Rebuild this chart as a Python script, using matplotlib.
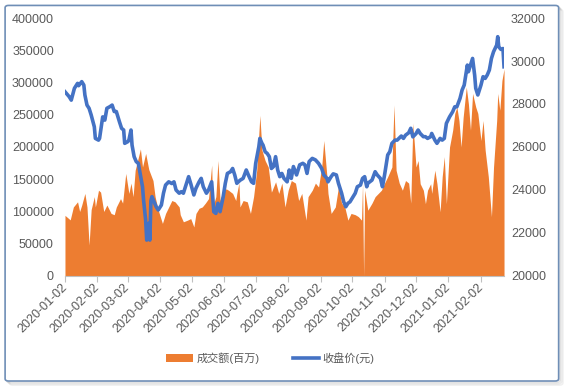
import matplotlib
matplotlib.use('Agg')
import matplotlib.pyplot as plt
from matplotlib.patches import FancyBboxPatch, Patch
from matplotlib.lines import Line2D
import pandas as pd

plt.rcParams['font.family'] = ['Liberation Sans', 'Noto Sans CJK SC', 'DejaVu Sans']

start = pd.Timestamp('2020-01-02')

# 成交额(百万): (days after 2020-01-02, value)
vol_points = [
    (0, 94000), (5, 87000), (8, 107000), (12, 115000), (14, 100000), (16, 110000),
    (19, 128000), (21, 107000), (23, 48000), (25, 103000), (28, 123000), (29, 107000),
    (32, 133000), (34, 130000), (37, 100000), (40, 110000), (44, 97000), (47, 95000),
    (49, 107000), (53, 120000), (55, 113000), (58, 159000), (61, 128000), (63, 144000),
    (65, 123000), (67, 164000), (72, 197000), (74, 169000), (77, 190000), (80, 165000),
    (84, 148000), (86, 123000), (89, 102000), (93, 81500), (96, 97000), (99, 107000),
    (102, 117000), (105, 115000), (109, 107000), (110, 95000), (113, 84000), (117, 86600),
    (120, 89000), (123, 76000), (125, 97000), (128, 105000), (131, 107000), (134, 113000),
    (137, 120000), (140, 172000), (141, 107000), (144, 123000), (146, 179000), (148, 117000),
    (151, 133000), (154, 135000), (156, 133000), (160, 128000), (163, 117000), (164, 128000),
    (166, 144000), (167, 107000), (170, 117000), (174, 115000), (177, 97000), (180, 123000),
    (183, 164000), (186, 249000), (188, 195000), (191, 179000), (194, 169000), (197, 130000),
    (201, 146000), (204, 128000), (207, 144000), (210, 107000), (213, 133000), (216, 148000),
    (220, 144000), (223, 117000), (226, 128000), (230, 86600), (232, 123000), (236, 133000),
    (239, 144000), (242, 138000), (245, 169000), (247, 210000), (250, 154000), (251, 128000),
    (254, 97000), (258, 107000), (261, 138000), (264, 113000), (267, 107000), (270, 86600),
    (273, 97000), (277, 95000), (280, 92000), (283, 86600), (284, 143000), (285, 0),
    (286, 133000), (289, 102000), (293, 113000), (296, 123000), (299, 128000), (302, 133000),
    (305, 144000), (308, 154000), (312, 169000), (314, 265000), (316, 164000), (319, 144000),
    (322, 133000), (325, 148000), (328, 144000), (330, 113000), (332, 237000), (335, 169000),
    (337, 179000), (339, 143000), (342, 133000), (344, 112000), (346, 133000), (349, 143000),
    (350, 128000), (353, 164000), (355, 143000), (358, 99500), (360, 154000), (362, 185000),
    (364, 112000), (367, 200000), (370, 226000), (372, 252000), (374, 262000), (376, 241000),
    (378, 200000), (380, 246000), (383, 293000), (385, 267000), (387, 226000), (389, 283000),
    (392, 262000), (394, 252000), (397, 210000), (399, 241000), (401, 195000), (404, 154000),
    (407, 92000), (409, 169000), (412, 241000), (413, 283000), (415, 257000), (417, 303000),
    (419, 321000),
]

# 收盘价(元): (days after 2020-01-02, value)
price_points = [
    (0, 28570), (4, 28340), (6, 28180), (9, 28730), (12, 28960), (13, 28850),
    (16, 29040), (18, 28880), (19, 28420), (21, 27950), (23, 27800), (25, 27490),
    (28, 26940), (29, 26400), (32, 26320), (33, 26400), (36, 27400), (38, 27250),
    (40, 27800), (43, 27880), (45, 27950), (47, 27650), (49, 27650), (52, 27170),
    (54, 26870), (56, 26790), (57, 26170), (60, 26250), (61, 26320), (63, 26790),
    (64, 26090), (66, 25550), (68, 25320), (70, 25240), (72, 24700), (74, 24150),
    (75, 23530), (77, 22600), (78, 21670), (80, 22450), (81, 21670), (82, 23500),
    (83, 23690), (85, 23450), (87, 23220), (89, 23070), (92, 23300), (94, 23850),
    (96, 24230), (99, 24380), (102, 24300), (104, 24380), (106, 24000), (109, 23850),
    (111, 23920), (113, 23850), (116, 24310), (118, 24620), (120, 24300), (123, 23770),
    (125, 24080), (128, 24380), (130, 24540), (132, 24150), (135, 23850), (137, 24000),
    (140, 24380), (142, 22990), (144, 22910), (146, 23380), (148, 22990), (151, 23690),
    (153, 24310), (155, 24770), (158, 24850), (160, 25000), (162, 24700), (164, 24310),
    (167, 24450), (170, 24540), (173, 24930), (175, 24700), (178, 24380), (180, 24310),
    (182, 25240), (185, 26010), (186, 26400), (188, 26170), (189, 26090), (191, 25780),
    (193, 25700), (195, 25550), (197, 25000), (199, 25090), (201, 25550), (203, 24930),
    (205, 24620), (207, 24770), (209, 24540), (212, 24380), (214, 24930), (216, 24540),
    (218, 25090), (221, 24700), (224, 25170), (227, 25240), (229, 25170), (231, 24770),
    (233, 25320), (236, 25470), (239, 25400), (242, 25240), (245, 25000), (247, 24700),
    (250, 24540), (251, 24380), (254, 24620), (256, 24750), (259, 24700), (261, 24310),
    (264, 23850), (266, 23450), (268, 23220), (270, 23380), (272, 23450), (274, 23610),
    (277, 23850), (279, 24150), (282, 24230), (284, 24540), (286, 24620), (288, 24150),
    (289, 24310), (293, 24460), (296, 24850), (298, 24700), (301, 24540), (303, 24150),
    (305, 24700), (308, 25630), (310, 25780), (312, 26170), (315, 26320), (317, 26320),
    (321, 26510), (323, 26400), (325, 26550), (328, 26660), (330, 26870), (332, 26470),
    (335, 26620), (337, 26790), (339, 26630), (342, 26480), (344, 26480), (346, 26400),
    (349, 26480), (350, 26630), (353, 26320), (355, 26170), (358, 26400), (360, 26320),
    (362, 26400), (364, 27100), (367, 27400), (370, 27640), (372, 27870), (374, 27870),
    (377, 28260), (379, 28650), (381, 28880), (384, 29810), (385, 29500), (387, 29810),
    (389, 30120), (391, 29330), (392, 28730), (394, 28420), (397, 28880), (399, 29270),
    (401, 29190), (403, 29350), (405, 29580), (407, 30120), (409, 30430), (412, 30740),
    (413, 31130), (414, 30660), (416, 30540), (418, 30580), (419, 29730),
]

tick_labels = ['2020-01-02', '2020-02-02', '2020-03-02', '2020-04-02', '2020-05-02',
               '2020-06-02', '2020-07-02', '2020-08-02', '2020-09-02', '2020-10-02',
               '2020-11-02', '2020-12-02', '2021-01-02', '2021-02-02']
left_ticks = [0, 50000, 100000, 150000, 200000, 250000, 300000, 350000, 400000]
right_ticks = [20000, 22000, 24000, 26000, 28000, 30000, 32000]

vol_dates = start + pd.to_timedelta([d for d, v in vol_points], unit='D')
vol_vals = [v for d, v in vol_points]
price_dates = start + pd.to_timedelta([d for d, v in price_points], unit='D')
price_vals = [v for d, v in price_points]

orange = '#ED7D31'
blue = '#4472C4'
grey_txt = '#595959'

fig = plt.figure(figsize=(5.66, 3.88), dpi=100)

# chart frame with a soft shadow
for k, a in enumerate([0.10, 0.08, 0.06]):
    off = (k + 1) * 0.0025
    fig.patches.append(FancyBboxPatch((0.009 + off, 0.018 - off * 1.4), 0.978, 0.968,
                                      boxstyle='round,pad=0,rounding_size=0.006',
                                      transform=fig.transFigure, facecolor='none',
                                      edgecolor='black', alpha=a, lw=1.2, zorder=-3))
fig.patches.append(FancyBboxPatch((0.009, 0.018), 0.978, 0.968,
                                  boxstyle='round,pad=0,rounding_size=0.006',
                                  transform=fig.transFigure, facecolor='white',
                                  edgecolor='#6F8EB6', lw=1.2, zorder=-2))

ax = fig.add_axes([0.1148, 0.2887, 0.7757, 0.6649])
ax.set_facecolor('none')
ax.fill_between(vol_dates, vol_vals, 0, color=orange, lw=0)

ax2 = ax.twinx()
ax2.plot(price_dates, price_vals, color=blue, lw=2.6, solid_joinstyle='round')

ax.set_xlim(start, vol_dates[-1])
ax.set_ylim(0, 400000)
ax.set_yticks(left_ticks)
ax.set_yticklabels([str(t) for t in left_ticks])
ax2.set_ylim(20000, 32000)
ax2.set_yticks(right_ticks)
ax2.set_yticklabels([str(t) for t in right_ticks])

ax.set_xticks(pd.to_datetime(tick_labels))
ax.set_xticklabels(tick_labels, rotation=45, ha='right', va='center',
                   rotation_mode='anchor')

for a in (ax, ax2):
    for s in ('top', 'left', 'right'):
        a.spines[s].set_visible(False)
    a.spines['bottom'].set_color('#BFBFBF')
ax2.spines['bottom'].set_visible(False)

ax.tick_params(axis='x', length=4, color='#BFBFBF', labelsize=9, labelcolor=grey_txt, pad=3)
ax.tick_params(axis='y', length=0, labelsize=9, labelcolor=grey_txt, pad=8)
ax2.tick_params(axis='y', length=0, labelsize=9, labelcolor=grey_txt, pad=5)

handles = [Patch(facecolor=orange, edgecolor='none'),
           Line2D([0], [0], color=blue, lw=2.6)]
fig.legend(handles, ['成交额(百万)', '收盘价(元)'], loc='center', ncol=2,
           bbox_to_anchor=(0.478, 0.077), frameon=False, fontsize=8,
           handlelength=2.4, handletextpad=0.3, columnspacing=3.0,
           labelcolor=grey_txt)

fig.savefig('out.png', dpi=100)
